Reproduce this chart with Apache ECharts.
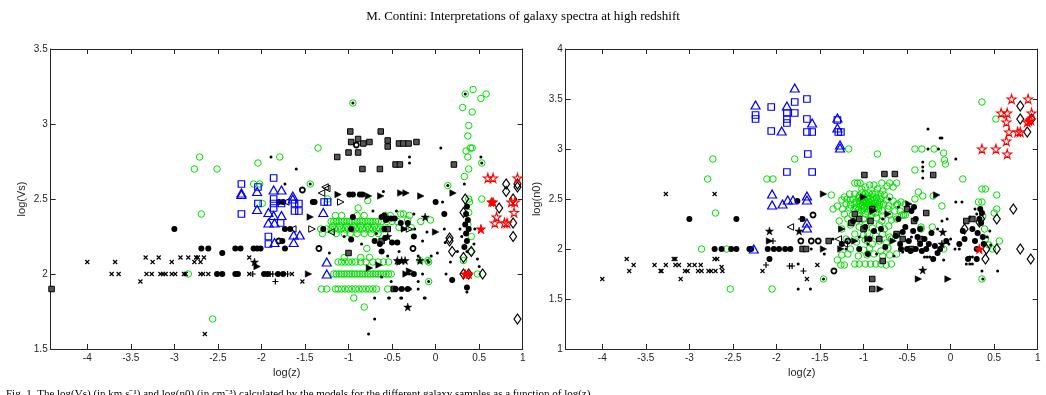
<!DOCTYPE html>
<html>
<head>
<meta charset="utf-8">
<script src="https://cdn.jsdelivr.net/npm/echarts@6/dist/echarts.min.js"></script>
<style>
  html, body { margin: 0; padding: 0; background: #fff; }
  #main { width: 1046px; height: 395px; }
</style>
</head>
<body>
<div id="main"></div>
<script>
// ---- data: [log(z), value] pairs, left panel = log(Vs), right panel = log(n0) ----
var xTicks = [-4, -3.5, -3, -2.5, -2, -1.5, -1, -0.5, 0, 0.5, 1];

// left panel
var L_green = [[-2.71,2.78],[-2.77,2.70],[-2.51,2.70],[-2.69,2.40],[-2.84,2.0],[-2.56,1.70],[-2.04,2.74],[-2.09,2.60],[-2.02,2.60],[-1.99,2.47],
  [-1.79,2.78],[-1.35,2.84],[-0.95,3.14],[-1.44,2.60],[-1.24,2.50],[-0.78,2.49],[-0.89,2.44],
  [-1.15,2.39],[-1.08,2.39],[-0.90,2.39],[-0.82,2.39],[-0.58,2.39],[-0.52,2.39],[-0.37,2.40],[-0.30,2.39],
  [-1.20,2.35],[-1.17,2.35],[-1.14,2.35],[-1.11,2.35],[-1.08,2.35],[-1.05,2.35],[-1.02,2.35],[-0.99,2.35],[-0.96,2.35],[-0.93,2.35],[-0.90,2.35],[-0.87,2.35],[-0.84,2.35],[-0.81,2.35],[-0.78,2.35],[-0.75,2.35],[-0.72,2.35],[-0.69,2.35],[-0.66,2.35],[-0.62,2.35],[-0.56,2.35],[-0.50,2.35],[-0.44,2.35],
  [-1.18,2.32],[-1.10,2.32],[-1.02,2.32],[-0.94,2.32],[-0.86,2.32],[-0.78,2.32],[-0.70,2.32],
  [-1.32,2.30],[-1.25,2.30],[-1.20,2.30],[-1.16,2.30],[-1.12,2.30],[-1.08,2.30],[-1.04,2.30],[-1.00,2.30],[-0.96,2.30],[-0.92,2.30],[-0.88,2.30],[-0.84,2.30],[-0.80,2.30],[-0.76,2.30],[-0.72,2.30],[-0.68,2.30],[-0.64,2.30],[-0.60,2.30],
  [-1.14,2.27],[-1.05,2.27],[-0.98,2.27],[-0.90,2.27],[-0.82,2.27],[-0.74,2.27],[-0.66,2.27],
  [-1.12,2.08],[-1.08,2.08],[-1.04,2.08],[-1.00,2.08],[-0.96,2.08],[-0.92,2.08],[-0.86,2.08],[-0.80,2.08],[-0.72,2.08],[-0.66,2.08],[-0.60,2.08],[-0.54,2.08],
  [-1.17,2.0],[-1.14,2.0],[-1.11,2.0],[-1.08,2.0],[-1.05,2.0],[-1.02,2.0],[-0.99,2.0],[-0.96,2.0],[-0.93,2.0],[-0.90,2.0],[-0.87,2.0],[-0.84,2.0],[-0.81,2.0],[-0.78,2.0],[-0.75,2.0],[-0.72,2.0],[-0.69,2.0],[-0.66,2.0],[-0.63,2.0],[-0.60,2.0],[-0.57,2.0],[-0.54,2.0],[-0.51,2.0],
  [-1.31,1.90],[-1.25,1.90],[-1.15,1.90],[-1.12,1.90],[-1.08,1.90],[-1.04,1.90],[-1.00,1.90],[-0.96,1.90],[-0.92,1.90],[-0.88,1.90],[-0.84,1.90],[-0.80,1.90],[-0.76,1.90],[-0.72,1.90],[-0.68,1.90],[-0.55,1.90],
  [-0.94,1.84],[-0.82,1.78],[-0.79,2.17],[-1.05,2.11],[-0.86,2.11],[-0.76,2.11],[-0.40,2.40],[-0.32,2.36],[-0.17,2.35],[-0.06,2.36],[-0.42,2.31],[-0.28,2.31],
  [-0.08,1.95],[-0.08,2.08],[0.14,2.59],[0.38,2.50],[0.53,2.50],[0.48,2.0],[0.34,3.20],[0.43,3.23],[0.52,3.17],[0.58,3.20],[0.31,3.11],[0.42,3.08],
  [0.38,2.99],[0.37,2.92],[0.40,2.84],[0.42,2.84],[0.35,2.82],[0.37,2.78],[0.38,2.70],[0.33,2.65],[0.53,2.74],[0.39,2.48],[0.38,2.41],[0.37,2.33],
  [0.41,2.25],[0.40,2.15],[0.32,2.09],[-1.30,2.27],[-0.18,2.09],[-0.09,2.09]];
var L_blueSq = [[-2.23,2.60],[-2.23,2.40],[-2.04,2.58],[-2.04,2.47],[-1.92,2.25],[-1.86,2.64],[-1.86,2.50],[-1.86,2.47],[-1.86,2.44],[-1.77,2.47],
  [-1.62,2.47],[-1.57,2.47],[-1.62,2.42],[-1.57,2.42],[-1.78,2.34],[-1.28,2.48],[-1.24,2.48],[-1.92,2.20]];
var L_blueTri = [[-2.23,2.54],[-2.23,2.53],[-2.05,2.55],[-2.05,2.43],[-1.92,2.41],[-1.92,2.34],[-1.86,2.56],[-1.77,2.56],[-1.64,2.52],[-1.64,2.50],
  [-1.86,2.39],[-1.77,2.39],[-1.85,2.34],[-1.63,2.26],[-1.56,2.26],[-1.85,2.21],[-1.63,2.21],[-1.29,2.41],[-1.25,2.08],[-1.25,2.0]];
var L_redStar = [[0.60,2.64],[0.66,2.64],[0.94,2.64],[0.87,2.48],[0.91,2.48],[0.90,2.41],[0.70,2.38],[0.68,2.34],[0.79,2.34],[0.82,2.34]];
var L_redStarF = [[0.64,2.48],[0.66,2.48],[0.52,2.30],[0.34,2.0],[0.38,2.0]];
var L_diamond = [[0.81,2.60],[0.81,2.55],[0.94,2.60],[0.94,2.58],[0.89,2.50],[0.73,2.44],[0.89,2.34],[0.89,2.25],[0.94,1.70],[0.34,2.50],[0.32,2.41],
  [0.16,2.24],[0.16,2.22],[0.19,2.15],[0.32,2.11],[0.41,2.15],[0.54,2.0],[0.38,2.0],[0.32,2.0]];
var L_disc = [[-3.0,2.30],[-2.69,2.17],[-2.61,2.17],[-2.45,2.14],[-2.30,2.17],[-2.24,2.17],[-2.09,2.17],[-2.05,2.17],[-2.01,2.17],[-2.51,2.0],[-2.45,2.0],
  [-2.30,2.0],[-2.27,2.0],[-1.97,2.0],[-1.93,2.0],[-1.73,2.30],[-1.67,2.30],[-1.81,2.0],[-1.75,2.0],[-1.73,2.17],[-1.76,2.22],[-1.80,2.48],[-1.75,2.48],
  [-1.41,2.48],[-1.39,2.48],[-1.29,2.30],[-0.99,2.53],[-0.95,2.53],[-0.87,2.53],[-0.84,2.53],[-0.97,2.30],[-0.97,2.23],[-0.59,2.39],[-0.59,2.30],
  [-0.40,2.34],[-0.32,2.34],[-0.95,2.38],[-0.62,2.38],[-0.57,2.36],[-0.70,2.22],[-0.64,2.20],[-0.55,2.37],[-0.51,2.37],[-0.47,2.37],[-0.50,2.21],
  [-0.44,2.21],[-0.46,1.90],[-0.39,1.90],[-0.32,1.90],[0.36,2.45],[0.35,2.40],[0.37,2.36],[0.34,2.33],[0.38,2.30],[0.35,2.27],[0.36,2.22],[0.33,2.18],
  [0.0,2.48],[0.10,2.40],[-0.58,2.24],[-0.62,2.15],[-0.25,2.25],[0.19,1.96],[-0.25,2.0],[0.36,1.91]];
var L_cross = [[-4.0,2.08],[-3.68,2.08],[-3.33,2.11],[-3.25,2.08],[-3.18,2.11],[-3.03,2.08],[-2.93,2.11],[-2.84,2.11],[-2.75,2.11],[-2.73,2.11],[-2.66,2.11],
  [-2.77,2.08],[-2.70,2.08],[-2.14,2.11],[-3.72,2.0],[-3.64,2.0],[-3.32,2.0],[-3.26,2.0],[-3.16,2.0],[-3.13,2.0],[-3.10,2.0],[-3.03,2.0],[-2.99,2.0],
  [-2.89,2.0],[-2.87,2.0],[-2.70,2.0],[-2.67,2.0],[-2.61,2.0],[-3.39,1.95],[-2.65,1.60],[-2.14,2.0],[-1.65,2.0],[-1.53,1.95]];
var L_plus = [[-2.10,2.0],[-1.90,2.0],[-1.87,2.0],[-1.84,1.95],[-1.70,2.0]];
var L_dot = [[-1.89,2.78],[-1.60,2.70],[-1.73,2.60],[-1.22,2.14],[0.06,2.84],[-0.30,2.78],[-0.30,2.74],[0.52,2.78],[0.53,2.74],[-0.70,1.70],[-0.77,1.60],
  [-0.70,1.84],[-0.54,1.84],[-0.40,1.84],[-0.13,1.84],[-0.20,1.95],[-0.20,1.90],[0.08,2.48],[0.11,2.21],[0.02,2.14],[0.17,2.08],[0.48,2.10],[-0.51,1.95],
  [-0.44,1.90],[-0.37,1.90],[-0.29,1.90],[-0.35,2.30],[-0.24,2.30],[0.33,2.60],[-0.12,1.84],[-0.39,1.84],[-0.53,1.84],[0.36,1.88],[-0.60,2.55],
  [-0.25,2.40],[-0.45,2.42],[-0.15,2.22],[-0.05,2.12],[0.10,2.30],[0.25,2.15],[0.28,2.30],[0.50,2.05],[0.45,2.30],[-0.55,2.12],[-0.62,1.98],[-0.85,2.20],
  [-1.05,2.25],[-0.30,2.00],[-0.15,2.00],[0.12,2.00],[-0.72,2.42],[-0.68,2.27],[-0.95,3.14],[-1.44,2.60],[0.34,3.20],[-0.08,1.95],[0.14,2.59],[0.36,2.15],
  [-0.09,2.09],[-0.08,2.08],[0.30,2.25],[0.44,2.20],[-0.42,2.15],[-0.20,2.12],[-0.10,2.28]];
var L_rtri = [[-1.12,2.53],[-0.63,2.52],[-0.40,2.54],[-0.34,2.54],[-0.17,2.52],[0.20,2.54],[-1.44,2.38],[-1.46,2.0],[-0.76,2.04],[-0.36,2.30],
  [0.0,2.28],[-0.34,2.0],[-0.77,2.52],[-2.05,2.05],[-0.65,2.06],[-0.41,2.08],[-0.30,2.02]];
var L_rtriOpen = [[-1.42,2.30],[-1.09,2.48],[-0.30,2.30]];
var L_ltriOpen = [[-1.27,2.58],[-1.25,2.57],[-1.31,2.54],[-1.72,2.48],[-1.64,2.30],[-1.20,2.28]];
var L_box = [[-0.98,2.95],[-0.63,2.95],[-0.97,2.88],[-0.89,2.90],[-0.83,2.87],[-0.76,2.88],[-0.55,2.89],[-0.55,2.85],[-0.42,2.87],[-0.37,2.87],
  [-0.31,2.87],[-0.22,2.88],[-1.13,2.78],[-1.00,2.81],[-0.89,2.81],[-0.84,2.70],[-0.64,2.70],[-0.46,2.73],[-0.41,2.73],[0.21,2.73],[-1.00,2.14],
  [-4.41,1.90],[-0.55,2.30],[-0.48,1.90],[-0.62,2.22]];
var L_bstar = [[-2.08,2.08],[-0.32,1.78],[-0.18,2.09],[-0.44,2.09],[-0.39,2.09],[-0.35,2.09],[-0.12,2.38],[-0.55,2.25]];
var L_ring = [[-1.53,2.56],[-1.34,2.17],[-0.91,2.86],[-0.26,2.17],[-1.80,2.22]];

// right panel
var R_green = [[-2.73,2.90],[-2.79,2.70],[-2.70,2.36],[-2.86,2.0],[-2.57,2.0],[-2.53,1.60],[-2.11,2.70],[-2.04,2.70],[-2.05,1.60],[-1.79,2.90],
  [-1.17,3.0],[-0.84,2.95],[-1.37,2.54],[-1.46,1.70],
  [-1.10,2.66],[-1.07,2.66],[-1.04,2.66],[-0.98,2.62],[-0.93,2.64],[-0.88,2.64],[-0.79,2.66],[-0.73,2.63],[-0.70,2.66],[-0.66,2.62],[-1.02,2.60],[-0.84,2.60],[-0.78,2.58],
  [-1.22,2.52],[-1.16,2.55],[-1.10,2.55],[-1.02,2.56],[-0.98,2.55],[-0.94,2.56],[-0.90,2.55],[-0.86,2.56],[-0.81,2.55],[-0.76,2.54],[-0.70,2.52],
  [-1.25,2.49],[-1.19,2.50],[-1.15,2.49],[-1.12,2.50],[-1.06,2.51],[-1.02,2.50],[-0.99,2.49],[-0.96,2.51],[-0.92,2.50],[-0.88,2.49],[-0.85,2.51],[-0.80,2.50],[-0.74,2.49],[-0.66,2.48],
  [-1.30,2.43],[-1.20,2.45],[-1.15,2.44],[-1.10,2.46],[-1.05,2.45],[-1.01,2.44],[-0.97,2.46],[-0.94,2.44],[-0.90,2.45],[-0.86,2.46],[-0.82,2.44],[-0.77,2.45],[-0.71,2.43],[-0.62,2.44],
  [-1.35,2.40],[-1.24,2.40],[-1.16,2.41],[-1.11,2.40],[-1.06,2.39],[-1.00,2.41],[-0.96,2.40],[-0.92,2.39],[-0.88,2.41],[-0.83,2.40],[-0.78,2.38],[-0.72,2.40],[-0.64,2.38],
  [-1.04,2.48],[-1.00,2.47],[-0.97,2.48],[-0.94,2.47],[-0.91,2.48],[-0.88,2.46],[-1.03,2.43],[-0.99,2.42],[-0.96,2.43],[-0.93,2.42],[-0.90,2.43],[-0.87,2.42],
  [-1.05,2.53],[-1.01,2.52],[-0.95,2.53],[-0.89,2.52],[-0.84,2.48],[-1.08,2.47],[-1.02,2.38],[-0.95,2.37],[-0.89,2.37],[-1.08,2.42],[-0.85,2.42],[-0.81,2.47],
  [-1.22,2.35],[-1.13,2.34],[-1.06,2.36],[-0.98,2.35],[-0.91,2.34],[-0.86,2.36],[-0.78,2.33],[-0.70,2.34],
  [-1.18,2.30],[-1.08,2.28],[-1.00,2.30],[-0.93,2.29],[-0.85,2.31],[-0.79,2.28],[-0.68,2.29],[-0.62,2.30],
  [-1.15,2.24],[-1.05,2.22],[-0.98,2.25],[-0.90,2.21],[-0.82,2.24],[-0.76,2.20],[-0.71,2.23],[-1.25,2.20],
  [-1.10,2.15],[-1.00,2.14],[-0.95,2.16],[-0.86,2.13],[-0.78,2.15],[-0.70,2.12],[-0.62,2.14],
  [-1.20,2.10],[-1.08,2.07],[-0.98,2.09],[-0.90,2.05],[-0.82,2.08],[-0.74,2.06],[-0.68,2.10],
  [-1.15,2.00],[-1.00,1.99],[-0.93,2.01],[-0.80,1.98],[-0.72,2.01],
  [-1.25,1.94],[-1.18,1.95],[-1.06,1.93],[-0.96,1.94],[-0.88,1.95],[-0.78,1.93],[-0.70,1.94],[-0.62,1.95],
  [-1.26,1.84],[-1.22,1.84],[-1.10,1.85],[-1.05,1.85],[-0.98,1.85],[-0.92,1.85],[-0.86,1.85],[-0.80,1.85],[-0.74,1.84],[-0.68,1.85],
  [-0.57,2.47],[-0.58,2.38],[-1.28,2.28],[-1.30,1.89],
  [-0.41,3.0],[-0.33,3.0],[-0.19,3.0],[-0.08,2.96],[-0.07,2.89],[-0.06,2.85],[-0.21,2.85],[-0.41,2.79],[0.14,2.70],[0.36,2.60],[0.40,2.60],
  [0.32,2.47],[0.36,2.47],[0.53,2.54],[0.53,2.40],[0.39,2.20],[0.44,2.04],[0.48,2.0],[0.56,2.08],[0.36,3.47],[0.52,3.30],[-0.37,2.57],[-0.32,2.53],
  [-0.20,2.53],[-0.10,2.43],[-0.34,2.22],[-0.21,2.22],[-0.08,2.0],[-0.41,2.50],[-0.52,2.45],[-0.61,2.45],[-0.62,2.66],[-0.56,2.34],[-0.54,2.34],
  [-0.52,2.34],[-0.34,2.20],[0.36,1.70],[0.37,2.33],[0.40,2.10],[0.50,2.36]];
var R_blueSq = [[-2.24,3.34],[-2.24,3.30],[-2.06,3.42],[-2.06,3.18],[-1.79,3.47],[-1.65,3.50],[-1.88,3.36],[-1.88,3.30],[-1.88,3.26],[-1.79,3.36],
  [-1.65,3.30],[-1.65,3.17],[-1.59,3.17],[-1.29,3.17],[-1.26,3.17],[-1.30,3.29],[-1.64,2.95],[-1.88,2.77],[-1.59,2.77]];
var R_blueTri = [[-2.24,3.44],[-2.26,2.0],[-2.05,2.55],[-2.05,2.44],[-1.79,3.61],[-1.88,3.43],[-1.59,3.26],[-1.30,3.31],[-1.30,3.21],[-1.27,3.04],
  [-1.27,3.01],[-1.94,3.18],[-1.93,2.45],[-1.87,2.49],[-1.81,2.49],[-1.65,2.53],[-1.65,2.49],[-1.65,2.26],[-1.65,2.21]];
var R_redStar = [[0.70,3.50],[0.89,3.50],[0.58,3.36],[0.65,3.36],[0.64,3.27],[0.67,3.17],[0.77,3.17],[0.80,3.17],[0.64,3.08],[0.36,3.0],[0.52,3.0],
  [0.65,2.95],[0.93,3.36],[0.88,3.27],[0.92,3.29]];
var R_redStarF = [[0.33,2.0],[0.90,3.28]];
var R_diamond = [[0.80,3.43],[0.80,3.30],[0.88,3.17],[0.93,3.30],[0.72,2.40],[0.80,2.0],[0.92,1.90],[0.53,2.30],[0.53,2.0],[0.40,1.90],[0.16,2.20],
  [0.35,2.30],[0.33,2.27],[0.41,2.0]];
var R_disc = [[-3.0,2.30],[-2.46,2.30],[-2.71,2.0],[-2.63,2.0],[-2.52,2.0],[-2.46,2.0],[-2.31,2.0],[-2.29,2.0],[-2.10,2.0],[-2.03,2.0],[-1.97,2.0],
  [-2.08,1.90],[-1.90,2.0],[-1.84,2.0],[-1.76,2.48],[-1.70,2.30],[-1.12,2.28],[-0.98,2.22],[-0.88,2.18],[-0.93,2.10],[-0.80,2.20],[-0.63,2.13],
  [-0.58,2.05],[-0.52,2.22],[-0.45,2.38],[-0.40,2.30],[-0.35,2.20],[-0.30,2.10],[-0.25,2.05],[-0.12,2.0],[-0.05,2.08],[0.16,2.10],[0.25,2.20],
  [0.30,2.0],[0.33,2.30],[0.35,2.26],[0.37,2.12],[-0.57,2.0],[-0.46,1.98],[-0.40,2.0],[-0.35,2.05],[-0.50,2.0],[-0.20,1.90],[0.30,1.90],[0.20,1.90],
  [-0.75,2.02],[-1.25,2.05],[-1.05,2.0],[-0.95,1.95],[-0.60,2.30],[-0.42,2.42],[-0.28,2.0],[-0.15,1.96],[0.36,2.36],[0.38,2.05],
  [-0.55,2.17],[-0.48,2.08],[-0.43,2.18],[-0.38,2.12],[-0.33,1.98],[-0.22,2.16],[-0.18,2.03],[0.10,2.05],[0.14,2.18],[0.28,2.08],[0.34,2.40],[0.31,2.16]];
var R_cross = [[-4.0,1.70],[-3.72,1.90],[-3.69,1.78],[-3.64,1.84],[-3.40,1.84],[-3.33,1.78],[-3.32,1.78],[-3.27,2.55],[-3.27,1.84],[-3.18,1.90],
  [-3.16,1.90],[-3.16,1.84],[-3.12,1.84],[-3.10,1.70],[-3.05,1.78],[-3.02,1.78],[-3.0,1.84],[-2.94,1.84],[-2.90,1.78],[-2.86,1.78],[-2.87,1.84],
  [-2.78,1.78],[-2.75,1.78],[-2.71,1.90],[-2.68,1.90],[-2.71,2.55],[-2.70,1.78],[-2.63,1.82],[-2.62,1.78],[-2.16,1.78],[-1.65,1.70],[-1.53,1.84]];
var R_plus = [[-2.12,1.84],[-1.69,1.78],[-1.85,1.83],[-1.82,1.83],[-2.04,2.08],[-1.72,2.30]];
var R_dot = [[-0.26,3.20],[-0.12,3.11],[-0.10,3.11],[-0.26,3.0],[-0.14,3.0],[0.06,2.90],[-0.32,2.87],[-0.32,2.82],[-0.32,2.78],[-0.32,2.71],
  [0.06,2.47],[0.13,2.47],[0.36,1.78],[0.54,1.78],[-0.21,1.89],[-0.08,1.89],[-1.75,1.60],[-1.61,1.60],[-1.20,2.0],[-0.27,1.92],[-0.24,1.92],
  [-0.30,1.92],[0.22,1.92],[0.25,1.92],[0.22,1.85],[0.25,1.85],[0.18,1.85],[0.10,2.0],[0.05,2.0],[-0.02,2.05],[0.0,2.10],[-0.15,2.20],[-0.10,2.28],
  [-0.04,2.30],[0.42,2.12],[0.45,2.18],[0.30,2.35],[0.28,2.40],[0.22,2.32],[0.46,2.04],[-0.60,2.42],[-0.70,2.50],[-0.78,2.30],[-0.55,1.97],
  [-0.45,2.12],[-0.95,2.05],[-1.05,2.12],[-0.85,1.95],[-0.65,1.93],[-1.35,2.10],[-1.60,2.0],[-1.45,1.95],[-1.75,1.85],[-1.46,1.70],[0.37,1.70]];
var R_rtri = [[-1.46,2.55],[-1.46,2.0],[-0.37,1.70],[-0.03,1.70],[-0.81,1.60],[-0.16,2.54],[-0.89,2.38],[-0.66,2.08],[-1.00,2.52],[-2.08,2.08],
  [-1.26,2.0],[-1.10,2.08],[-0.95,2.10],[-0.72,2.35],[-0.48,2.45],[-1.25,2.20]];
var R_ltriOpen = [[-1.84,2.22],[-1.29,2.10],[-1.22,2.05]];
var R_box = [[-0.99,2.74],[-0.76,2.75],[-0.64,2.75],[-0.20,2.74],[-0.90,1.60],[-0.90,1.70],[-0.28,2.36],[-1.14,2.26],[-1.40,2.08],[-0.50,2.40],
  [-0.42,2.28],[-0.45,2.0],[-0.35,2.10],[-0.62,2.15],[-0.55,2.10],[-1.10,2.35],[-1.00,2.20],[-0.82,2.10],[0.25,2.30],[0.18,2.28],[-0.90,2.40],
  [-0.92,2.28],[-1.05,2.30],[-0.78,1.88],[-1.70,2.0],[-1.66,2.0]];
var R_bstar = [[-2.08,2.18],[-0.32,1.79],[-0.09,2.17],[-1.74,2.18],[-0.10,2.05]];
var R_ring = [[-1.34,1.78],[-1.58,2.34],[-1.72,2.08],[-1.60,2.08],[-1.52,2.08],[-1.18,2.08]];

// ---- marker shapes ----
var STAR = 'path://M50,0L61,35L98,35L68,57L79,91L50,70L21,91L32,57L2,35L39,35Z';
var DIAM = 'path://M5,0L10,7L5,14L0,7Z';
var XMARK = 'path://M0,0L10,10M10,0L0,10';
var PLUS = 'path://M5,0L5,10M0,5L10,5';
var RTRI = 'path://M0,0L10,5L0,10Z';
var LTRI = 'path://M10,0L0,5L10,10Z';
var CLEAR = 'rgba(0,0,0,0)';
var GREEN = '#00e000', BLUE = '#0000ff', RED = '#ff0000';

function sc(data, panel, sym, size, fill, stroke, bw) {
  return {
    type: 'scatter', xAxisIndex: panel * 2, yAxisIndex: panel * 2,
    data: data, symbol: sym, symbolSize: size, silent: true, animation: false,
    itemStyle: { color: fill, borderColor: stroke, borderWidth: bw, opacity: 1 }
  };
}

function panelSeries(p, d) {
  return [
    sc(d.green, p, 'circle', 6.5, CLEAR, GREEN, 1),
    sc(d.box, p, 'rect', 5.5, '#555', '#000', 1),
    sc(d.disc, p, 'circle', 6, '#000', '#000', 0),
    sc(d.cross, p, XMARK, 4, CLEAR, '#000', 1.2),
    sc(d.plus, p, PLUS, 6, CLEAR, '#000', 1.2),
    sc(d.rtri, p, RTRI, 6.5, '#000', '#000', 0.5),
    sc(d.rtriOpen, p, RTRI, 6.5, CLEAR, '#000', 1),
    sc(d.ltriOpen, p, LTRI, 6.5, CLEAR, '#000', 1),
    sc(d.ring, p, 'circle', 5, CLEAR, '#000', 1.8),
    sc(d.bstar, p, STAR, 8, '#000', '#000', 0.5),
    sc(d.dot, p, 'circle', 3, '#000', '#000', 0),
    sc(d.diamond, p, DIAM, [7, 10], CLEAR, '#000', 1.2),
    sc(d.blueSq, p, 'rect', 6.5, CLEAR, BLUE, 1.2),
    sc(d.blueTri, p, 'triangle', [9, 8], CLEAR, BLUE, 1.2),
    sc(d.redStar, p, STAR, 9, CLEAR, RED, 1.1),
    sc(d.redStarF, p, STAR, 9, RED, RED, 1)
  ];
}

var FONT = "'Liberation Sans Narrow', 'Liberation Sans', Arial, sans-serif";
var lineStyle = { color: '#262626', width: 1 };

function axesFor(p, left, ymin, ymax, yname) {
  var grid = { left: left, width: 472, top: 49, height: 300 };
  var xb = {
    type: 'value', gridIndex: p, position: 'bottom', min: -4.42, max: 1,
    name: 'log(z)', nameLocation: 'middle', nameGap: 17,
    nameTextStyle: { fontFamily: FONT, fontSize: 11, color: '#262626' },
    axisLine: { show: true, onZero: false, lineStyle: lineStyle },
    axisTick: { inside: true, length: 5, customValues: xTicks, lineStyle: lineStyle },
    axisLabel: { customValues: xTicks, margin: 4, fontFamily: FONT, fontSize: 10, color: '#262626' },
    splitLine: { show: false }
  };
  var xt = {
    type: 'value', gridIndex: p, position: 'top', min: -4.42, max: 1,
    axisLine: { show: true, onZero: false, lineStyle: lineStyle },
    axisTick: { inside: true, length: 5, customValues: xTicks, lineStyle: lineStyle },
    axisLabel: { show: false }, splitLine: { show: false }
  };
  var yl = {
    type: 'value', gridIndex: p, position: 'left', min: ymin, max: ymax, interval: 0.5,
    name: yname, nameLocation: 'middle', nameGap: 23,
    nameTextStyle: { fontFamily: FONT, fontSize: 11, color: '#262626' },
    axisLine: { show: true, onZero: false, lineStyle: lineStyle },
    axisTick: { inside: true, length: 5, lineStyle: lineStyle },
    axisLabel: { margin: 3, fontFamily: FONT, fontSize: 10, color: '#262626' },
    splitLine: { show: false }
  };
  var yr = {
    type: 'value', gridIndex: p, position: 'right', min: ymin, max: ymax, interval: 0.5,
    axisLine: { show: true, onZero: false, lineStyle: lineStyle },
    axisTick: { inside: true, length: 5, lineStyle: lineStyle },
    axisLabel: { show: false }, splitLine: { show: false }
  };
  return { grid: grid, x: [xb, xt], y: [yl, yr] };
}

var A = axesFor(0, 50.7, 1.5, 3.5, 'log(Vs)');
var B = axesFor(1, 565.7, 1, 4, 'log(n0)');

var left = { green: L_green, box: L_box, disc: L_disc, cross: L_cross, plus: L_plus, rtri: L_rtri, rtriOpen: L_rtriOpen,
  ltriOpen: L_ltriOpen, ring: L_ring, bstar: L_bstar, dot: L_dot, diamond: L_diamond, blueSq: L_blueSq, blueTri: L_blueTri,
  redStar: L_redStar, redStarF: L_redStarF };
var right = { green: R_green, box: R_box, disc: R_disc, cross: R_cross, plus: R_plus, rtri: R_rtri, rtriOpen: [],
  ltriOpen: R_ltriOpen, ring: R_ring, bstar: R_bstar, dot: R_dot, diamond: R_diamond, blueSq: R_blueSq, blueTri: R_blueTri,
  redStar: R_redStar, redStarF: R_redStarF };

var chart = echarts.init(document.getElementById('main'), null, { renderer: 'canvas' });
chart.setOption({
  backgroundColor: '#fff',
  animation: false,
  title: {
    text: 'M. Contini: Interpretations of galaxy spectra at high redshift',
    left: 'center', top: 5,
    textStyle: { fontFamily: "'Liberation Serif', 'Times New Roman', serif", fontSize: 13, fontWeight: 'normal', color: '#000' }
  },
  graphic: [{
    type: 'text', left: 6, top: 389, silent: true,
    style: {
      text: 'Fig. 1. The log(Vs) (in km s\u207B\u00B9) and log(n0) (in cm\u207B\u00B3) calculated by the models for the different galaxy samples as a function of log(z)',
      font: "11px 'Liberation Serif', serif", fill: '#000'
    }
  }],
  grid: [A.grid, B.grid],
  xAxis: A.x.concat(B.x),
  yAxis: A.y.concat(B.y),
  series: panelSeries(0, left).concat(panelSeries(1, right))
});
</script>
</body>
</html>
